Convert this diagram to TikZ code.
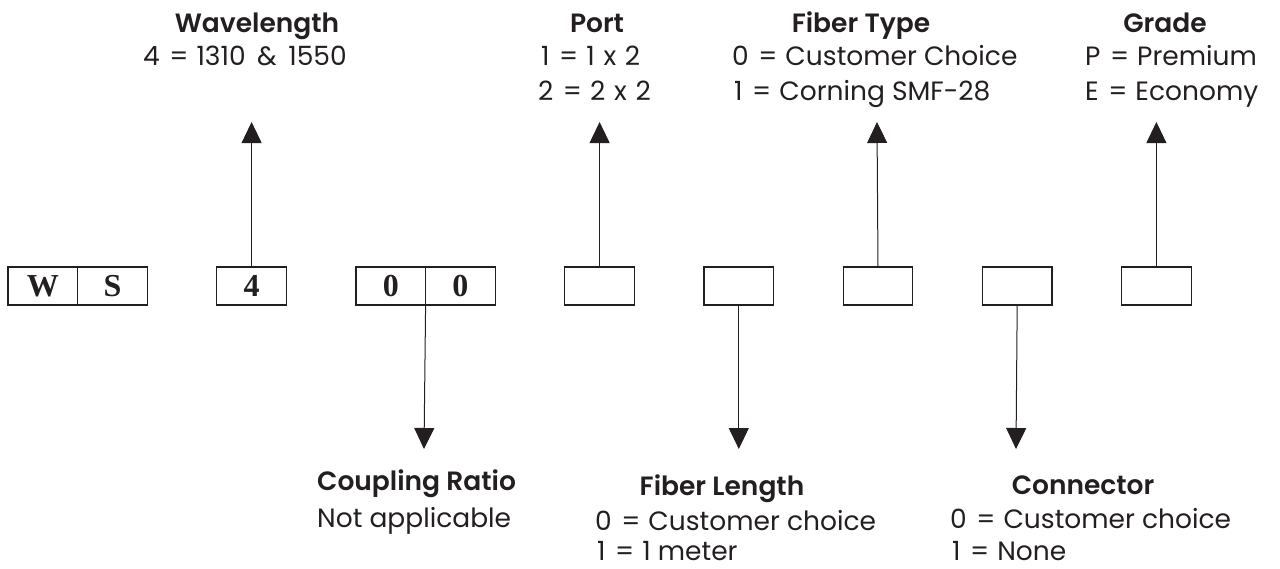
\documentclass[tikz,border=0pt]{standalone}
\usepackage{fontspec}
\setmainfont{Poppins}[Numbers=Monospaced]
\newfontfamily\titlefont{Poppins SemiBold}
\newfontfamily\boxfont{Liberation Serif}
\usetikzlibrary{arrows.meta}
\definecolor{ink}{HTML}{231F20}
\newcommand{\eqs}{\hspace{0.36em}=\hspace{0.3em}}
\newcommand{\xs}{\hspace{0.33em}x\hspace{0.33em}}
\begin{document}
\begin{tikzpicture}[x=1pt,y=-1pt,
  cell/.style={draw=ink, line width=1.25pt, minimum width=69.6pt, minimum height=38pt,
    inner sep=0pt, outer sep=0pt, text=ink, font=\boxfont\bfseries\fontsize{32}{34}\selectfont},
  title/.style={anchor=base, inner sep=0pt, text=ink, font=\titlefont\fontsize{26.5}{28}\selectfont},
  ltitle/.style={title, anchor=base west},
  item/.style={anchor=base west, inner sep=0pt, text=ink, font=\fontsize{26.5}{28}\selectfont},
  arr/.style={draw=ink, line width=1pt, -{Triangle[length=21pt,width=20pt]}}]
\useasboundingbox (0,0) rectangle (1280,568);

% code boxes
\node[cell] (w) at (42.8,286) {W};
\node[cell] (s) at (112.4,286) {S};
\node[cell] (four) at (251.6,286) {4};
\node[cell] (z1) at (390.8,286) {0};
\node[cell] (z2) at (460.4,286) {0};
\node[cell] (port) at (599.6,286) {};
\node[cell] (flen) at (738.8,286) {};
\node[cell] (ftype) at (878,286) {};
\node[cell] (conn) at (1017.2,286) {};
\node[cell] (grade) at (1156.4,286) {};

% arrow tips
\coordinate (tWL) at (251.6,122);
\coordinate (tCR) at (424,449);
\coordinate (tPT) at (599.6,122);
\coordinate (tFL) at (738.8,449);
\coordinate (tFT) at (877,122);
\coordinate (tCN) at (1016,449);
\coordinate (tGR) at (1156.4,122);

\draw[arr] (four.north) -- (tWL);
\draw[arr] (z1.south east) -- (tCR);
\draw[arr] (port.north) -- (tPT);
\draw[arr] (flen.south) -- (tFL);
\draw[arr] (ftype.north) -- (tFT);
\draw[arr] (conn.south) -- (tCN);
\draw[arr] (grade.north) -- (tGR);

% top labels
\node[title] (wlT) at (257,32) {Wavelength};
\node[item] (wl1) at (143,65) {4\eqs1310 \,\&\, 1550};

\node[title] (ptT) at (597,32) {Port};
\node[item] (pt1) at (541,65) {1\eqs1\xs2};
\node[item] (pt2) at (538,100) {2\eqs2\xs2};

\node[title] (ftT) at (861,32) {Fiber Type};
\node[item] (ft1) at (732,65) {0\eqs Customer Choice};
\node[item] (ft2) at (734,100) {1\eqs Corning SMF-28};

\node[title] (grT) at (1165,32) {Grade};
\node[item] (gr1) at (1085,65) {P\eqs Premium};
\node[item] (gr2) at (1085,100) {E\eqs Economy};

% bottom labels
\node[ltitle] (crT) at (317,490) {Coupling Ratio};
\node[item] (cr1) at (317,527) {Not applicable};

\node[title] (flT) at (722,495) {Fiber Length};
\node[item] (fl1) at (595,530) {0\eqs Customer choice};
\node[item] (fl2) at (597,560) {1\eqs1 meter};

\node[title] (cnT) at (1083,494) {Connector};
\node[item] (cn1) at (950,528) {0\eqs Customer choice};
\node[item] (cn2) at (952,560) {1\eqs None};
\end{tikzpicture}
\end{document}
